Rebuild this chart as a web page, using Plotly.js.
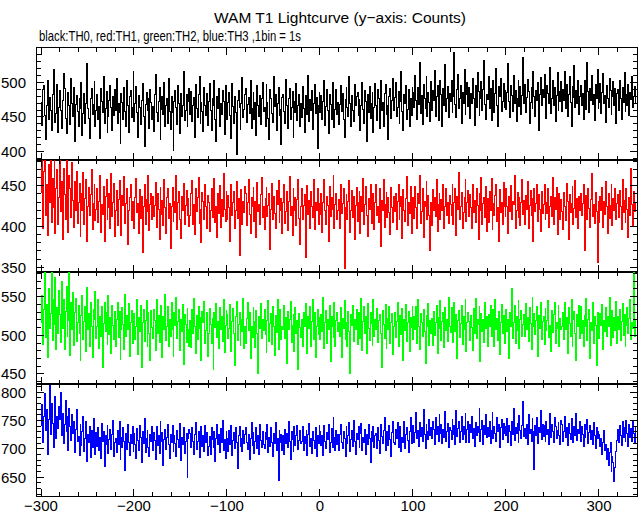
<!DOCTYPE html>
<html>
<head>
<meta charset="utf-8">
<script src="https://cdn.plot.ly/plotly-3.0.1.min.js"></script>
<style>
html,body{margin:0;padding:0;background:#fff;}
#chart{width:643px;height:515px;}
#chart .scatterlayer path.js-line{shape-rendering:crispEdges;}
</style>
</head>
<body>
<div id="chart"></div>
<script>
const TITLE = "WAM T1 Lightcurve (y\u2212axis: Counts)";
const SUBTITLE = "black:TH0, red:TH1, green:TH2, blue:TH3 ,1bin = 1s";
const T_START = -300;   // time of first bin (s)
const BIN_SIZE = 1;     // 1 bin = 1 s
const seriesNames = ["TH0", "TH1", "TH2", "TH3"];
const seriesColors = ["#000000", "#ff0000", "#00ff00", "#0000ff"];

const th0 = [
471,438,489,495,452,417,466,503,447,478,460,431,482,519,471,442,455,497,428,463,
488,459,433,474,512,491,448,426,461,486,467,439,506,470,451,493,415,468,481,458,
437,476,462,499,423,455,484,441,470,527,462,448,419,476,491,453,468,501,436,459,
482,447,465,419,491,473,456,508,440,462,487,428,451,474,496,463,431,479,452,489,
460,505,441,469,457,412,484,471,446,493,458,437,502,466,428,479,488,449,463,515,
443,470,494,456,421,481,463,439,474,498,450,407,468,486,459,477,433,490,471,447,
465,429,482,511,457,444,473,492,418,461,480,453,499,437,466,476,441,505,458,432,
479,456,401,472,488,463,439,495,470,426,484,451,467,516,445,460,482,436,473,491,
454,487,443,466,478,421,497,462,449,483,509,440,471,458,429,493,467,452,484,438,
473,498,460,431,477,466,503,447,415,480,462,491,436,469,454,488,472,425,495,459,
446,471,485,452,419,498,465,440,479,457,396,474,488,463,432,470,507,449,461,483,
491,442,468,478,455,503,433,462,486,447,471,424,495,466,451,481,439,476,499,458,
463,436,497,471,448,417,489,477,455,442,508,465,483,430,469,493,452,461,411,478,
482,458,441,504,467,433,476,491,446,463,487,420,472,457,498,445,466,482,437,470,
449,494,462,427,481,468,453,510,443,475,460,488,432,469,497,455,478,404,466,486,
457,481,446,472,503,438,465,490,459,426,483,468,447,500,474,435,461,489,453,471,
439,468,496,458,484,447,420,475,492,463,451,509,470,436,481,459,444,497,466,479,
485,452,475,430,467,499,461,441,488,473,414,482,456,494,448,470,486,427,463,498,
467,445,490,476,433,502,459,471,437,484,497,453,466,418,479,491,448,474,505,460,
478,499,451,463,487,440,472,516,458,431,482,469,495,447,461,489,436,477,452,493,
486,463,510,474,447,492,468,529,455,481,439,497,476,462,508,450,486,471,443,501,
459,488,474,517,451,479,496,445,470,503,482,436,491,467,525,458,477,494,449,484,
472,502,457,480,543,468,449,489,511,462,477,495,441,486,470,519,454,482,499,465,
493,448,484,470,506,477,438,495,463,514,487,452,476,501,460,489,531,468,446,483,
475,509,462,491,445,478,503,456,484,520,467,437,494,479,506,458,472,498,463,488,
461,486,527,473,449,496,481,458,510,470,488,443,476,502,465,494,453,481,536,469,
497,456,478,504,487,440,471,492,462,515,479,451,488,474,499,430,483,507,466,490,
478,511,463,448,495,484,470,521,455,476,503,467,492,444,481,514,459,487,472,501,
458,489,474,516,462,497,450,483,509,471,436,494,478,524,463,488,469,502,453,480,
495,467,484,446,503,479,461,528,487,456,491,474,510,468,482,445,497,476,518,462,
471,498,455,486,512,469,481,442,495,477,463,506,488,453,479,501,466,491,440,484,
489,460,502,476,447,493,471,514,458,482,467,497,452,486,475,508,463,479,494,470
];

const th1 = [
442,482,397,468,482,413,451,389,476,430,482,405,459,423,482,391,447,470,402,436,
482,418,455,384,471,439,408,482,426,393,462,447,411,478,432,399,455,420,468,404,
429,453,388,441,419,466,402,434,457,381,425,448,413,439,470,396,428,452,407,421,
446,405,431,462,393,427,415,449,381,437,458,409,423,441,398,465,412,430,453,388,
419,444,401,433,456,412,389,438,426,461,404,428,447,378,420,436,452,407,431,414,
398,435,459,417,428,392,445,410,437,368,424,451,403,433,418,463,395,427,441,409,
437,412,426,454,399,440,421,384,448,415,432,401,458,423,391,436,446,410,428,373,
425,448,406,431,417,462,396,429,443,408,385,437,419,453,402,426,444,413,434,400,
413,440,456,402,427,390,446,418,435,460,404,421,380,442,431,409,452,424,397,438,
430,394,419,447,411,436,459,405,424,387,441,416,450,399,433,412,465,421,406,443,
408,438,423,381,452,414,429,443,397,420,455,410,434,364,426,445,403,431,417,449,
441,401,429,457,415,392,436,424,448,406,431,387,454,418,427,402,439,460,411,425,
396,434,448,412,426,440,372,421,453,409,437,416,398,444,427,456,405,420,434,391,
429,452,404,418,443,395,431,461,413,425,389,447,419,436,401,433,457,410,378,424,
447,408,426,439,362,421,450,415,432,398,443,424,411,458,396,430,419,446,403,428,
415,441,393,430,457,419,403,437,426,382,449,412,435,421,463,398,427,441,408,420,
433,397,451,416,428,446,349,423,439,408,431,456,393,420,444,411,437,384,426,448,
406,429,443,391,437,418,459,402,427,449,413,388,434,421,452,404,429,441,396,430,
452,414,425,405,446,376,432,420,458,399,427,442,411,436,417,390,448,423,405,437,
418,440,396,431,452,409,424,437,385,445,420,406,434,461,401,429,416,449,392,427,
436,410,449,423,398,440,428,463,404,418,447,387,431,425,455,409,438,414,370,429,
401,445,419,436,412,457,394,427,441,408,433,420,451,397,424,446,413,430,404,438,
427,414,452,403,430,446,389,437,421,466,409,425,442,398,417,435,458,406,429,444,
412,439,423,398,451,417,432,405,446,426,384,441,419,460,402,428,436,411,449,394,
434,405,443,420,459,396,428,414,438,452,406,423,381,445,417,430,403,454,425,412,
446,424,392,437,418,450,409,431,427,463,398,420,442,411,436,401,429,457,415,432,
403,438,421,455,397,426,444,413,434,381,447,418,428,452,406,439,421,394,443,416,
427,451,408,430,416,446,399,424,437,412,460,402,435,421,448,390,426,441,409,433,
418,396,442,425,407,453,431,384,439,417,428,449,403,422,456,411,434,398,437,420,
441,414,428,452,370,425,438,409,446,422,399,433,465,412,427,404,442,418,356,431,
405,437,420,448,399,431,415,455,424,392,440,410,426,451,401,434,419,446,408,428,
439,411,444,424,396,457,417,432,405,447,421,386,436,414,471,427,401,443,418,430
];

const th2 = [
516,552,488,533,582,497,540,471,561,509,528,582,493,547,514,575,482,536,503,558,
527,491,570,509,546,482,531,563,498,519,582,474,542,508,555,487,529,548,492,517,
539,503,468,526,551,494,518,537,479,562,507,528,486,543,512,471,534,521,557,496,
511,546,483,524,498,537,459,515,542,505,529,488,551,501,523,476,539,513,494,531,
485,520,542,497,531,469,508,536,514,482,553,499,526,507,541,473,517,532,490,521,
528,494,512,546,475,523,505,538,458,516,534,492,519,545,486,529,503,467,532,510,
496,533,519,481,547,502,526,491,514,539,471,524,508,553,493,511,537,485,520,499,
542,507,473,529,513,549,496,518,534,480,521,505,540,462,527,514,491,535,508,486,
519,484,533,502,548,512,477,526,495,537,509,523,468,531,516,544,490,506,529,473,
503,535,514,489,522,456,530,510,541,497,518,483,536,507,525,492,547,478,513,532,
527,496,509,540,479,518,535,502,461,525,544,493,514,530,487,521,505,548,483,511,
490,522,543,506,529,470,512,497,536,518,484,532,503,451,524,509,541,496,520,506,
533,501,478,519,545,492,515,528,488,537,511,474,526,504,547,482,518,533,495,512,
508,539,496,523,464,531,507,520,544,491,513,527,479,536,502,519,456,528,510,497,
521,486,530,512,541,497,476,524,509,537,485,518,546,495,529,471,512,534,501,523,
494,527,505,549,483,516,532,490,521,508,539,466,525,511,497,543,486,519,530,505,
516,498,536,471,522,509,545,494,517,486,531,505,450,527,513,539,492,520,507,534,
488,529,512,496,548,481,518,537,503,524,477,541,509,493,530,515,487,546,498,521,
507,535,491,519,527,502,459,532,514,496,540,483,522,508,537,490,516,528,475,512,
530,497,518,543,486,513,526,501,535,468,521,506,540,492,517,531,479,523,510,537,
495,524,508,537,490,547,511,482,528,516,498,534,505,463,526,512,541,487,519,503,
522,487,531,500,517,539,476,523,509,545,493,518,530,484,536,506,521,492,549,511,
504,536,513,491,542,505,527,470,519,532,497,515,539,488,524,508,547,479,516,529,
518,493,526,510,481,535,502,548,496,521,514,537,466,528,505,520,491,542,509,525,
486,527,512,538,499,519,533,485,546,507,522,493,531,475,517,540,502,526,489,513,
534,505,521,470,529,511,560,496,517,538,489,524,506,545,483,520,532,498,514,527,
499,541,508,523,492,536,515,482,549,511,528,501,519,537,473,526,509,543,495,518,
524,488,535,506,519,545,497,513,479,532,504,527,543,490,516,509,538,486,522,507,
511,530,494,542,508,523,477,536,515,499,547,486,520,531,503,468,527,512,539,496,
537,502,519,485,526,511,548,493,521,534,470,517,506,542,489,525,513,461,530,508,
496,528,513,540,482,519,505,536,498,524,511,549,487,515,532,497,523,506,544,490,
525,507,533,493,518,541,500,527,485,513,536,502,522,547,494,516,509,582,498,520
];

const th3 = [
741,779,712,758,797,733,769,690,752,812,726,781,745,702,766,793,718,757,736,775,
752,800,724,763,709,744,786,731,758,697,772,740,715,761,728,748,693,735,770,714,
722,688,743,706,731,757,695,719,748,678,726,711,740,685,733,702,754,716,691,729,
705,738,697,721,684,745,713,730,669,724,708,741,692,717,735,699,726,751,687,712,
718,693,732,707,748,681,720,703,737,714,662,728,699,744,711,689,725,709,739,696,
727,708,684,736,715,697,742,721,676,731,710,754,694,719,733,702,687,725,713,740,
698,729,715,681,739,706,723,692,748,713,729,671,717,735,699,720,744,708,684,726,
712,741,696,724,710,687,733,716,702,745,679,721,707,738,692,714,728,650,718,734,
728,703,737,714,691,726,747,699,713,731,685,720,739,705,723,696,742,711,729,688,
705,722,690,738,716,703,731,677,719,744,708,725,693,736,712,751,698,717,684,731,
719,696,733,707,742,688,715,729,701,737,711,665,723,740,704,718,695,733,709,726,
737,711,699,725,681,718,746,706,729,692,714,738,701,724,690,743,715,702,731,708,
700,729,716,743,694,721,705,738,712,686,727,709,746,697,719,644,732,711,725,698,
723,691,734,710,727,702,749,713,681,730,717,696,739,706,724,741,699,715,732,709,
714,740,697,722,709,733,688,725,745,704,719,692,731,715,700,737,686,723,710,742,
731,706,724,689,741,714,700,729,717,744,693,712,736,703,756,720,697,733,708,726,
698,725,744,712,701,730,718,687,739,709,723,746,695,716,732,704,750,713,691,727,
716,739,703,728,745,697,721,711,734,690,726,707,743,719,676,731,714,740,702,724,
727,701,738,715,692,744,722,709,733,755,698,719,730,706,741,717,686,729,748,712,
708,734,719,746,703,727,740,696,721,712,749,701,725,738,715,694,731,756,709,723,
741,712,729,765,718,733,705,747,722,738,713,770,726,701,744,730,716,752,724,737,
719,748,734,707,755,725,739,713,761,728,743,709,735,720,766,714,731,745,703,738,
733,716,752,726,741,708,768,722,736,749,711,731,758,717,740,726,763,712,734,748,
711,744,729,757,718,736,704,747,723,740,729,771,714,735,751,707,742,725,760,720,
738,722,748,709,733,764,719,740,727,713,756,731,744,703,737,752,716,745,728,739,
724,753,712,741,730,706,749,725,772,715,738,727,745,711,759,733,718,741,783,722,
736,719,744,708,761,727,735,714,753,731,663,742,724,756,710,738,729,767,716,744,
722,741,713,749,726,735,707,762,720,744,730,712,755,739,718,733,747,724,708,751,
743,714,730,758,721,737,706,745,728,717,753,732,711,740,724,762,715,734,727,748,
713,739,726,704,744,720,735,752,709,729,741,716,733,707,746,723,701,738,719,731,
726,704,719,691,712,733,697,708,682,701,670,694,712,660,687,676,642,668,695,715,
734,712,741,724,706,748,720,737,713,751,728,705,743,721,736,714,749,727,710,739
];

const seriesValues = [th0, th1, th2, th3];
const yRanges = [[388, 549.4], [344.2, 481.5], [437, 582], [617, 814.6]];
const xRange = [-304.3, 340.9];

const FONT = "Liberation Sans, Arial, Helvetica, sans-serif";
const traces = [];
const layout = {
  width: 643, height: 515,
  margin: {l: 37, r: 6, t: 48, b: 19},
  paper_bgcolor: "#ffffff", plot_bgcolor: "#ffffff",
  showlegend: false,
  font: {family: FONT, size: 15, color: "#000"},
  annotations: [
    {text: TITLE, xref: "paper", yref: "paper", x: 0.505, y: 1, yshift: 31, xanchor: "center", yanchor: "middle", showarrow: false, font: {family: FONT, size: 15.5, color: "#000"}},
    {text: SUBTITLE, xref: "paper", yref: "paper", x: 0, y: 1, yshift: 12, xanchor: "left", yanchor: "middle", showarrow: false, font: {family: FONT, size: 14.5, color: "#000"}}
  ]
};

for (let k = 0; k < 4; k++) {
  const suffix = k === 0 ? "" : String(k + 1);
  traces.push({
    type: "scatter", mode: "lines",
    x0: T_START, dx: BIN_SIZE,
    y: seriesValues[k],
    name: seriesNames[k],
    xaxis: "x" + suffix, yaxis: "y" + suffix,
    line: {color: seriesColors[k], width: 1, shape: "hv", simplify: false},
    hoverinfo: "skip"
  });
  const top = 1 - k * 0.25, bot = 1 - (k + 1) * 0.25;
  layout["yaxis" + suffix] = {
    domain: [bot, top], range: yRanges[k], anchor: "x" + suffix,
    dtick: 50, ticks: "inside", ticklen: 7, tickwidth: 1, tickcolor: "#000",
    minor: {dtick: 10, ticks: "inside", ticklen: 4, tickwidth: 1, tickcolor: "#000"},
    showline: true, linecolor: "#000", linewidth: 1, mirror: "allticks",
    showgrid: false, zeroline: false, ticklabelstandoff: 7,
    tickfont: {family: FONT, size: 15, color: "#000"}
  };
  layout["xaxis" + suffix] = {
    range: xRange, anchor: "y" + suffix,
    dtick: 100, tick0: 0, ticks: "inside", ticklen: 7, tickwidth: 1, tickcolor: "#000",
    minor: {dtick: 20, ticks: "inside", ticklen: 4, tickwidth: 1, tickcolor: "#000"},
    showline: true, linecolor: "#000", linewidth: 1, mirror: "allticks",
    showgrid: false, zeroline: false,
    showticklabels: k === 3, ticklabelstandoff: -4,
    tickfont: {family: FONT, size: 15, color: "#000"}
  };
  if (k > 0) layout["xaxis" + suffix].matches = "x";
}

Plotly.newPlot("chart", traces, layout, {staticPlot: true, displayModeBar: false}).then(function () {
  // the subtitle in the reference is set in a condensed face: squeeze it to its measured width
  const texts = document.querySelectorAll("#chart .annotation-text");
  if (texts.length > 1) {
    const t = texts[1];
    const bb = t.getBBox();
    t.setAttribute("text-anchor", "start");
    t.setAttribute("x", bb.x);
    t.setAttribute("textLength", 262);
    t.setAttribute("lengthAdjust", "spacingAndGlyphs");
  }
});
</script>
</body>
</html>
